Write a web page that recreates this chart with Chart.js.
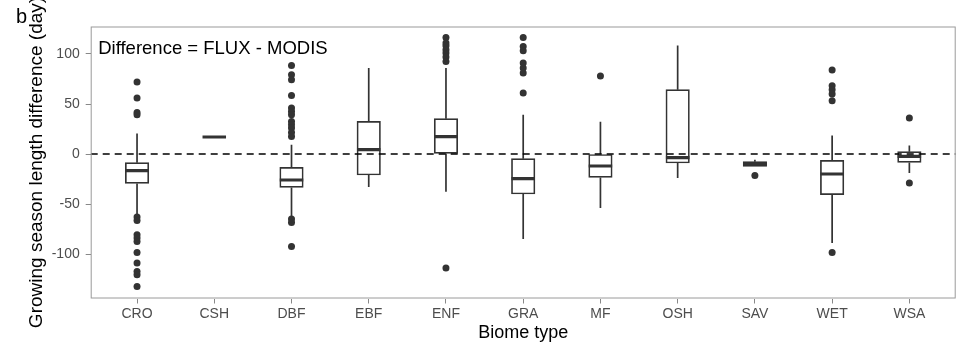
<!DOCTYPE html>
<html><head><meta charset="utf-8">
<script src="https://cdn.jsdelivr.net/npm/chart.js@4"></script>
<style>html,body{margin:0;padding:0;background:#fff}canvas{display:block}</style>
</head><body>
<canvas id="c" width="975" height="345"></canvas>
<script>
// ---- data ----
const categories = ['CRO','CSH','DBF','EBF','ENF','GRA','MF','OSH','SAV','WET','WSA'];
const q1          = [-29.4, 17, -33.4, -21,   0.6, -40,   -23.4, -9,    -12.4, -40.7, -8.4];
const median      = [-16.7, 17, -26,     4.3, 17.3, -24.7, -12,   -3.7,  -10,   -20,   -2.4];
const q3          = [ -8.7, 17, -13.4,  32.6, 35.3,  -4.7,   0,   64.3,  -7.7,  -6.4,  2.3];
const whiskerLow  = [-60.7, 17, -62.4, -33,  -37.7, -85,   -54,  -24,   -12.4, -89,  -19];
const whiskerHigh = [ 20.6, 17,   9.3,  86,   86,    39.3,  32.3, 108.6, -5.7,  18.6,  8.6];
const outliersCRO = [72, 56, 41.6, 39.3, -63, -66.4, -80.7, -84, -87.4, -98.4, -109, -117.4, -120.7, -132.4];
const outliersCSH = [];
const outliersDBF = [88.6, 79.3, 74.3, 58.6, 46, 42.6, 39.3, 32.6, 29.3, 26, 21.6, 17.6, -65, -68.4, -92.4];
const outliersEBF = [];
const outliersENF = [116.6, 111, 108.3, 104.3, 101, 97, 92.6, -114];
const outliersGRA = [116.6, 107.6, 103.3, 91, 86, 81, 61];
const outliersMF  = [78];
const outliersOSH = [];
const outliersSAV = [-21.4];
const outliersWET = [84, 68.3, 64.3, 60, 53.3, -98.4];
const outliersWSA = [36, -29];
const outliers = [outliersCRO, outliersCSH, outliersDBF, outliersEBF, outliersENF, outliersGRA,
                  outliersMF, outliersOSH, outliersSAV, outliersWET, outliersWSA];
const yTicks = [-100, -50, 0, 50, 100];
const yMin = -144.5, yMax = 127.5;
const xMin = -0.6, xMax = categories.length - 1 + 0.6;
const referenceLine = 0;

// ---- styling ----
const FONT = "'Liberation Sans', Arial, Helvetica, sans-serif";
Chart.defaults.font.family = FONT;
const DARK = '#333333';
const BORDER = '#9a9a9a';

const boxData = categories.map((c, i) => ({x: i, y: [q1[i], q3[i]]}));
const whiskerData = [];
categories.forEach((c, i) => {
  whiskerData.push({x: i, y: q3[i]}, {x: i, y: whiskerHigh[i]}, {x: i, y: null},
                   {x: i, y: q1[i]}, {x: i, y: whiskerLow[i]}, {x: i, y: null});
});
const medianData = categories.map((c, i) => ({x: i, y: median[i]}));
const outlierData = [];
outliers.forEach((arr, i) => arr.forEach(v => outlierData.push({x: i, y: v})));
const zeroData = [{x: xMin, y: referenceLine}, {x: xMax, y: referenceLine}];

const decorPlugin = {
  id: 'decor',
  afterDraw(chart) {
    const {ctx, chartArea: a} = chart;
    ctx.save();
    ctx.strokeStyle = BORDER;
    ctx.lineWidth = 1;
    ctx.strokeRect(a.left + 0.5, a.top + 0.5, a.right - a.left - 1, a.bottom - a.top - 1);
    ctx.fillStyle = '#000';
    ctx.textBaseline = 'alphabetic';
    ctx.textAlign = 'left';
    ctx.font = '18.5px ' + FONT;
    ctx.fillText('Difference = FLUX - MODIS', a.left + 7.5, 54);
    ctx.font = '20px ' + FONT;
    ctx.fillText('b', 16, 23);
    ctx.restore();
  }
};

new Chart(document.getElementById('c'), {
  type: 'bar',
  data: {
    datasets: [
      {type: 'line', data: whiskerData, borderColor: DARK, borderWidth: 1.7,
       pointRadius: 0, spanGaps: false, order: 5},
      {type: 'bar', data: boxData, backgroundColor: '#ffffff', borderColor: DARK,
       borderWidth: 1.7, borderSkipped: false, barThickness: 23.5, order: 4},
      {type: 'scatter', data: medianData, pointStyle: 'line', pointRadius: 11.75,
       borderColor: DARK, borderWidth: 3.2, order: 3},
      {type: 'line', data: zeroData, borderColor: '#000', borderWidth: 1.4,
       borderDash: [7, 5], pointRadius: 0, order: 2},
      {type: 'scatter', data: outlierData, pointRadius: 3.5, backgroundColor: DARK,
       borderWidth: 0, order: 1}
    ]
  },
  options: {
    responsive: false,
    animation: false,
    events: [],
    layout: {padding: {top: 26.5, right: 19.3, left: 0, bottom: 0}},
    plugins: {legend: {display: false}, tooltip: {enabled: false}},
    scales: {
      x: {
        type: 'linear', min: xMin, max: xMax, offset: false,
        afterBuildTicks: s => { s.ticks = categories.map((c, i) => ({value: i})); },
        afterFit: s => { s.height = 46.5; },
        ticks: {callback: v => categories[v], color: '#4d4d4d', font: {size: 14},
                padding: 2, autoSkip: false, maxRotation: 0},
        grid: {offset: false, drawOnChartArea: false, drawTicks: true, tickLength: 5, color: '#888'},
        border: {display: false},
        title: {display: true, text: 'Biome type', color: '#000', font: {size: 18},
                padding: {top: 0, bottom: 1.5}}
      },
      y: {
        type: 'linear', min: yMin, max: yMax,
        afterBuildTicks: s => { s.ticks = yTicks.map(v => ({value: v})); },
        afterFit: s => { s.width = 90.7; },
        ticks: {color: '#4d4d4d', font: {size: 14}, padding: 6},
        grid: {drawOnChartArea: false, drawTicks: true, tickLength: 5, color: '#888'},
        border: {display: false},
        title: {display: true, text: 'Growing season length difference (day)', color: '#000',
                font: {size: 19}, padding: {top: 25, bottom: 0}}
      }
    }
  },
  plugins: [decorPlugin]
});
</script>
</body></html>
